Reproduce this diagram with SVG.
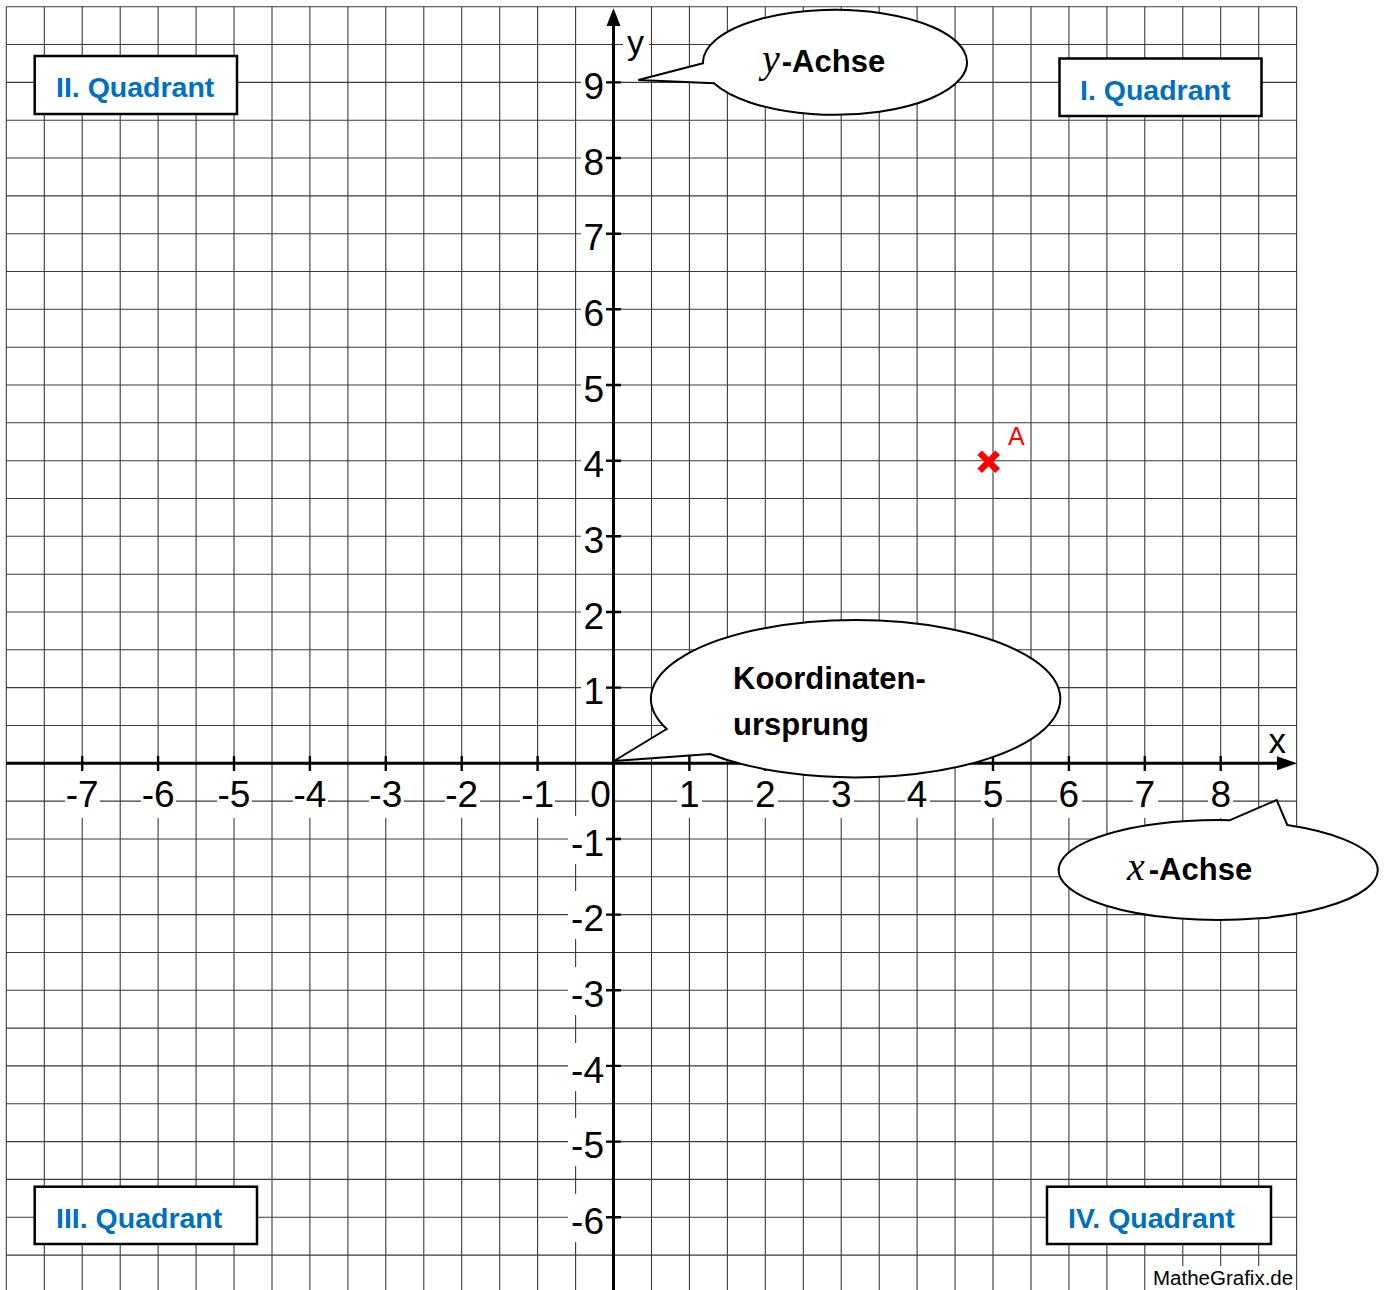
<svg xmlns="http://www.w3.org/2000/svg" width="1385" height="1290" viewBox="0 0 1385 1290">
<style>
.grid{fill:none;stroke:#3a3a3a;stroke-width:1.1}
.ax{fill:none;stroke:#000;stroke-width:3}
.tk{fill:none;stroke:#000;stroke-width:2.4}
.bg{fill:#fff;stroke:none}
.num{font-family:"Liberation Sans",Arial,sans-serif;font-size:37px;fill:#000}
.xl{text-anchor:middle}
.yl{text-anchor:end}
.qbox{fill:#fff;stroke:#000;stroke-width:2.5}
.qtxt{font-family:"Liberation Sans",Arial,sans-serif;font-weight:bold;font-size:28.5px;fill:#0070C0}
.call{fill:#fff;stroke:#000;stroke-width:2;stroke-linejoin:miter}
.ctxt{font-family:"Liberation Sans",Arial,sans-serif;font-weight:bold;font-size:31px;fill:#000}
.mi{font-family:"Liberation Serif","Times New Roman",serif;font-style:italic;font-weight:normal;font-size:40px}
.ab{font-family:"Liberation Sans",Arial,sans-serif;font-weight:bold;font-size:31px}
</style>
<rect width="1385" height="1290" fill="#fff"/>
<g id="grid">
<path class="grid" d="M6.3 6.7V1290M44.3 6.7V1290M82.2 6.7V1290M120.2 6.7V1290M158.1 6.7V1290M196.1 6.7V1290M234 6.7V1290M272 6.7V1290M309.9 6.7V1290M347.9 6.7V1290M385.8 6.7V1290M423.8 6.7V1290M461.7 6.7V1290M499.7 6.7V1290M537.6 6.7V1290M575.6 6.7V1290M651.5 6.7V1290M689.4 6.7V1290M727.4 6.7V1290M765.3 6.7V1290M803.3 6.7V1290M841.2 6.7V1290M879.2 6.7V1290M917.1 6.7V1290M955.1 6.7V1290M993 6.7V1290M1031 6.7V1290M1068.9 6.7V1290M1106.9 6.7V1290M1144.8 6.7V1290M1182.8 6.7V1290M1220.7 6.7V1290M1258.7 6.7V1290M1296.6 6.7V1290"/>
<path class="grid" d="M6.3 6.7H1296.6M6.3 44.5H1296.6M6.3 82.4H1296.6M6.3 120.2H1296.6M6.3 158H1296.6M6.3 195.9H1296.6M6.3 233.7H1296.6M6.3 271.5H1296.6M6.3 309.3H1296.6M6.3 347.2H1296.6M6.3 385H1296.6M6.3 422.8H1296.6M6.3 460.7H1296.6M6.3 498.5H1296.6M6.3 536.3H1296.6M6.3 574.2H1296.6M6.3 612H1296.6M6.3 649.8H1296.6M6.3 687.6H1296.6M6.3 725.5H1296.6M6.3 801.1H1296.6M6.3 839H1296.6M6.3 876.8H1296.6M6.3 914.6H1296.6M6.3 952.5H1296.6M6.3 990.3H1296.6M6.3 1028.1H1296.6M6.3 1065.9H1296.6M6.3 1103.8H1296.6M6.3 1141.6H1296.6M6.3 1179.4H1296.6M6.3 1217.3H1296.6M6.3 1255.1H1296.6"/>
</g>
<g id="label-backgrounds">
<rect class="bg" x="65" y="770" width="35" height="48"/>
<rect class="bg" x="141" y="770" width="35" height="48"/>
<rect class="bg" x="217" y="770" width="35" height="48"/>
<rect class="bg" x="293" y="770" width="35" height="48"/>
<rect class="bg" x="369" y="770" width="35" height="48"/>
<rect class="bg" x="445" y="770" width="35" height="48"/>
<rect class="bg" x="520" y="770" width="35" height="48"/>
<rect class="bg" x="589" y="770" width="23" height="48"/>
<rect class="bg" x="677" y="770" width="25" height="48"/>
<rect class="bg" x="753" y="770" width="25" height="48"/>
<rect class="bg" x="829" y="770" width="25" height="48"/>
<rect class="bg" x="905" y="770" width="25" height="48"/>
<rect class="bg" x="981" y="770" width="25" height="48"/>
<rect class="bg" x="1057" y="770" width="25" height="48"/>
<rect class="bg" x="1133" y="770" width="25" height="48"/>
<rect class="bg" x="1208" y="770" width="25" height="48"/>
<rect class="bg" x="581" y="59" width="25" height="48"/>
<rect class="bg" x="581" y="135" width="25" height="48"/>
<rect class="bg" x="581" y="210" width="25" height="48"/>
<rect class="bg" x="581" y="286" width="25" height="48"/>
<rect class="bg" x="581" y="362" width="25" height="48"/>
<rect class="bg" x="581" y="437" width="25" height="48"/>
<rect class="bg" x="581" y="513" width="25" height="48"/>
<rect class="bg" x="581" y="589" width="25" height="48"/>
<rect class="bg" x="581" y="664" width="25" height="48"/>
<rect class="bg" x="568" y="816" width="38" height="48"/>
<rect class="bg" x="568" y="891" width="38" height="48"/>
<rect class="bg" x="568" y="967" width="38" height="48"/>
<rect class="bg" x="568" y="1043" width="38" height="48"/>
<rect class="bg" x="568" y="1118" width="38" height="48"/>
<rect class="bg" x="568" y="1194" width="38" height="48"/>
<rect class="bg" x="623" y="22" width="26" height="44"/>
<rect class="bg" x="1266" y="727" width="30" height="33"/>
<rect class="bg" x="1149" y="1266" width="145" height="24"/>
</g>
<g id="axes">
<path class="ax" d="M6 763.3H1278"/>
<polygon points="1297,763.3 1277,756.3 1277,770.3" fill="#000"/>
<path class="ax" d="M613.5 1290V24"/>
<polygon points="613.5,8.3 606.5,26 620.5,26" fill="#000"/>
<path class="tk" d="M82.2 756V771M158.1 756V771M234 756V771M309.9 756V771M385.8 756V771M461.7 756V771M537.6 756V771M689.4 756V771M765.3 756V771M841.2 756V771M917.1 756V771M993 756V771M1068.9 756V771M1144.8 756V771M1220.7 756V771"/>
<path class="tk" d="M606 82.4H621M606 158H621M606 233.7H621M606 309.3H621M606 385H621M606 460.7H621M606 536.3H621M606 612H621M606 687.6H621M606 839H621M606 914.6H621M606 990.3H621M606 1065.9H621M606 1141.6H621M606 1217.3H621"/>
</g>
<g id="x-labels" class="num xl">
<text x="82.2" y="806.7">-7</text>
<text x="158.1" y="806.7">-6</text>
<text x="234" y="806.7">-5</text>
<text x="309.9" y="806.7">-4</text>
<text x="385.8" y="806.7">-3</text>
<text x="461.7" y="806.7">-2</text>
<text x="537.6" y="806.7">-1</text>
<text x="600.5" y="806.7">0</text>
<text x="689.4" y="806.7">1</text>
<text x="765.3" y="806.7">2</text>
<text x="841.2" y="806.7">3</text>
<text x="917.1" y="806.7">4</text>
<text x="993" y="806.7">5</text>
<text x="1068.9" y="806.7">6</text>
<text x="1144.8" y="806.7">7</text>
<text x="1220.7" y="806.7">8</text>
</g>
<g id="y-labels" class="num yl">
<text x="604" y="99.1">9</text>
<text x="604" y="174.7">8</text>
<text x="604" y="250.4">7</text>
<text x="604" y="326">6</text>
<text x="604" y="401.7">5</text>
<text x="604" y="477.4">4</text>
<text x="604" y="553">3</text>
<text x="604" y="628.7">2</text>
<text x="604" y="704.3">1</text>
<text x="604" y="855.7">-1</text>
<text x="604" y="931.3">-2</text>
<text x="604" y="1007">-3</text>
<text x="604" y="1082.6">-4</text>
<text x="604" y="1158.3">-5</text>
<text x="604" y="1234">-6</text>
</g>
<g id="axis-names">
<text x="627" y="54" style="font-family:'Liberation Sans',Arial,sans-serif;font-size:34px">y</text>
<text x="1268.5" y="753.3" style="font-family:'Liberation Sans',Arial,sans-serif;font-size:35px">x</text>
</g>
<g id="callout-y-achse">
<path class="call" d="M703 63.3L638.3 80L714 83.3A132 52.5 0 1 0 703 63.3Z"/>
<text x="762" y="71.5"><tspan class="mi">y</tspan><tspan class="ab" dx="2">-Achse</tspan></text>
</g>
<g id="callout-ursprung">
<path class="call" d="M666.7 729L614 761L710 754A204.7 78.7 0 1 0 666.7 729Z"/>
<text class="ctxt" x="733" y="689">Koordinaten-</text>
<text class="ctxt" x="733" y="735">ursprung</text>
</g>
<g id="callout-x-achse">
<path class="call" d="M1230 820.2L1276.7 800L1287.3 825A159.5 50 0 1 1 1230 820.2Z"/>
<text x="1127" y="880"><tspan class="mi">x</tspan><tspan class="ab" dx="4">-Achse</tspan></text>
</g>
<g id="quadrant-2">
<rect class="qbox" x="34.7" y="56" width="202.3" height="58"/>
<text class="qtxt" x="56" y="97.3">II. Quadrant</text>
</g>
<g id="quadrant-1">
<rect class="qbox" x="1059.5" y="58.5" width="202" height="57.5"/>
<text class="qtxt" x="1080" y="99.5">I. Quadrant</text>
</g>
<g id="quadrant-3">
<rect class="qbox" x="34.7" y="1186.7" width="222.3" height="57.3"/>
<text class="qtxt" x="56" y="1227.5">III. Quadrant</text>
</g>
<g id="quadrant-4">
<rect class="qbox" x="1047" y="1186.7" width="224" height="57.3"/>
<text class="qtxt" x="1068" y="1227.5">IV. Quadrant</text>
</g>
<g id="point-A">
<path d="M979.7 452.7L997.7 470.7M997.7 452.7L979.7 470.7" stroke="#f00" stroke-width="6.5" fill="none"/>
<text x="1008" y="445" style="font-family:'Liberation Sans',Arial,sans-serif;font-size:25px;fill:#f00">A</text>
</g>
<text id="credit" x="1153" y="1285" style="font-family:'Liberation Sans',Arial,sans-serif;font-size:20.5px;fill:#000">MatheGrafix.de</text>
</svg>
